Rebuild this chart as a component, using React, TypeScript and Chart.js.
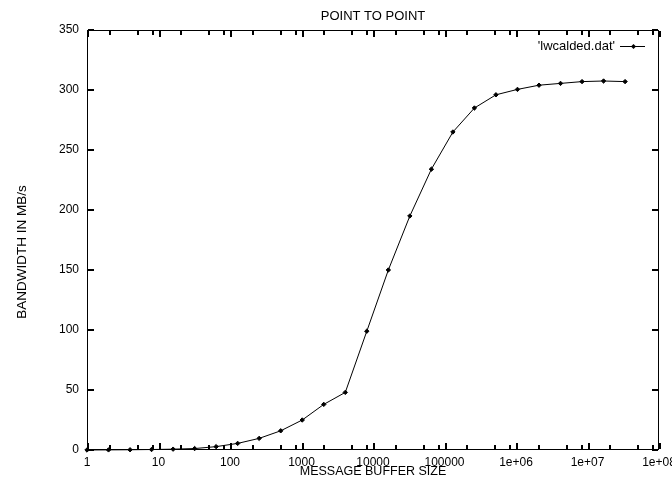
import React, { useEffect, useRef } from "react";
import { Chart, registerables } from "chart.js";

Chart.register(...registerables);

const TITLE = "POINT TO POINT";
const X_TITLE = "MESSAGE BUFFER SIZE";
const Y_TITLE = "BANDWIDTH IN MB/s";
const LEGEND_LABEL = "'lwcalded.dat'";

const messageSizes = [
  1, 2, 4, 8, 16, 32, 64, 128, 256, 512, 1024, 2048, 4096, 8192, 16384, 32768,
  65536, 131072, 262144, 524288, 1048576, 2097152, 4194304, 8388608, 16777216, 33554432,
];
const bandwidth = [
  0, 0.1, 0.2, 0.4, 0.7, 1.2, 2.8, 5.5, 9.7, 16, 25, 38, 48, 99, 150, 195, 234, 265, 285,
  296, 300.5, 304, 305.5, 307, 307.5, 307,
];

const xTickValues = [1, 10, 100, 1000, 10000, 100000, 1e6, 1e7, 1e8];
const xTickLabels = ["1", "10", "100", "1000", "10000", "100000", "1e+06", "1e+07", "1e+08"];
const xMinorFactors = [2, 5, 8];
const yTickValues = [0, 50, 100, 150, 200, 250, 300, 350];

const FONT = "'Liberation Sans', Arial, sans-serif";

const decorations = {
  id: "decorations",
  afterDraw(chart: any) {
    const { ctx, chartArea: a, scales } = chart;
    const xs = scales.x;
    const ys = scales.y;
    ctx.save();
    ctx.fillStyle = "#000";
    const L = Math.round(a.left);
    const R = Math.round(a.right) - 1;
    const T = Math.round(a.top);
    const B = Math.round(a.bottom) - 1;
    ctx.fillRect(L, T, R - L + 1, 1);
    ctx.fillRect(L, B, R - L + 1, 1);
    ctx.fillRect(L, T, 1, B - T + 1);
    ctx.fillRect(R, T, 1, B - T + 1);
    const major = 6;
    const minor = 4;
    for (let k = 0; k < xTickValues.length; k++) {
      const px = Math.round(xs.getPixelForValue(xTickValues[k]));
      ctx.fillRect(px, B - major, 2, major);
      ctx.fillRect(px, T + 1, 2, major);
      if (k < xTickValues.length - 1) {
        for (let j = 0; j < xMinorFactors.length; j++) {
          const qx = Math.round(xs.getPixelForValue(xTickValues[k] * xMinorFactors[j]));
          ctx.fillRect(qx, B - minor, 2, minor);
          ctx.fillRect(qx, T + 1, 2, minor);
        }
      }
    }
    for (let k = 0; k < yTickValues.length; k++) {
      const py = Math.round(ys.getPixelForValue(yTickValues[k]));
      ctx.fillRect(L + 1, py - 1, major, 2);
      ctx.fillRect(R - major, py - 1, major, 2);
    }

    // main title
    ctx.font = `13px ${FONT}`;
    ctx.textAlign = "center";
    ctx.textBaseline = "middle";
    ctx.fillText(TITLE, (a.left + a.right) / 2, 16);

    // y axis title
    ctx.save();
    ctx.translate(22, 252);
    ctx.rotate(-Math.PI / 2);
    ctx.font = `13.5px ${FONT}`;
    ctx.textAlign = "center";
    ctx.textBaseline = "middle";
    ctx.fillText(Y_TITLE, 0, 0);
    ctx.restore();

    // legend
    const ly = Math.round(a.top + 16);
    ctx.font = `13px ${FONT}`;
    ctx.textAlign = "right";
    ctx.textBaseline = "middle";
    ctx.fillText(LEGEND_LABEL, a.right - 44, ly + 0.5);
    ctx.fillRect(Math.round(a.right - 39), ly, 25, 1);
    const cx = Math.round(a.right - 26.5) + 0.5;
    const cy = ly + 0.5;
    ctx.beginPath();
    ctx.moveTo(cx, cy - 2.5);
    ctx.lineTo(cx + 2.5, cy);
    ctx.lineTo(cx, cy + 2.5);
    ctx.lineTo(cx - 2.5, cy);
    ctx.closePath();
    ctx.fill();
    ctx.restore();
  },
};

export default function App() {
  const ref = useRef<HTMLCanvasElement | null>(null);
  useEffect(() => {
    document.documentElement.style.overflow = "hidden";
    document.body.style.overflow = "hidden";
    document.body.style.margin = "0";
    if (!ref.current) return;
    const chart = new Chart(ref.current, {
      type: "line",
      data: {
        datasets: [
          {
            label: LEGEND_LABEL,
            data: messageSizes.map((x, i) => ({ x, y: bandwidth[i] })),
            borderColor: "#000",
            backgroundColor: "#000",
            borderWidth: 1,
            pointStyle: "rectRot",
            pointRadius: 2.2,
            pointBorderWidth: 1,
            pointBackgroundColor: "#000",
            pointBorderColor: "#000",
            fill: false,
            tension: 0,
            clip: false as any,
          },
        ],
      },
      options: {
        animation: false,
        responsive: false,
        maintainAspectRatio: false,
        devicePixelRatio: 1,
        layout: { padding: { top: 30, right: 13, left: 0, bottom: 0 } },
        plugins: {
          legend: { display: false },
          title: { display: false },
          tooltip: { enabled: false },
        },
        scales: {
          x: {
            type: "logarithmic",
            min: 1,
            max: 1e8,
            grid: { display: false, drawTicks: false },
            border: { display: false },
            afterBuildTicks: (scale: any) => {
              scale.ticks = xTickValues.map((v) => ({ value: v }));
            },
            afterFit: (scale: any) => {
              scale.height = 29;
              scale.paddingLeft = 0;
              scale.paddingRight = 0;
            },
            ticks: {
              autoSkip: false,
              maxRotation: 0,
              padding: 5,
              color: "#000",
              font: { family: FONT, size: 12 },
              callback: (value: any) => {
                const i = xTickValues.indexOf(Number(value));
                return i >= 0 ? xTickLabels[i] : "";
              },
            },
            title: {
              display: true,
              text: X_TITLE,
              color: "#000",
              font: { family: FONT, size: 12.5, lineHeight: 1.2 },
              padding: { top: 0, bottom: 0 },
            },
          },
          y: {
            type: "linear",
            min: 0,
            max: 350,
            grid: { display: false, drawTicks: false },
            border: { display: false },
            afterBuildTicks: (scale: any) => {
              scale.ticks = yTickValues.map((v) => ({ value: v }));
            },
            afterFit: (scale: any) => {
              scale.width = 87;
              scale.paddingTop = 0;
              scale.paddingBottom = 0;
            },
            ticks: {
              padding: 8,
              color: "#000",
              font: { family: FONT, size: 12 },
            },
            title: { display: false },
          },
        },
      },
      plugins: [decorations],
    });
    return () => chart.destroy();
  }, []);
  return (
    <div style={{ position: "fixed", left: 0, top: 0, width: 672, height: 479, background: "#fff", overflow: "hidden" }}>
      <canvas ref={ref} width={672} height={479} style={{ display: "block", width: 672, height: 479 }} />
    </div>
  );
}
